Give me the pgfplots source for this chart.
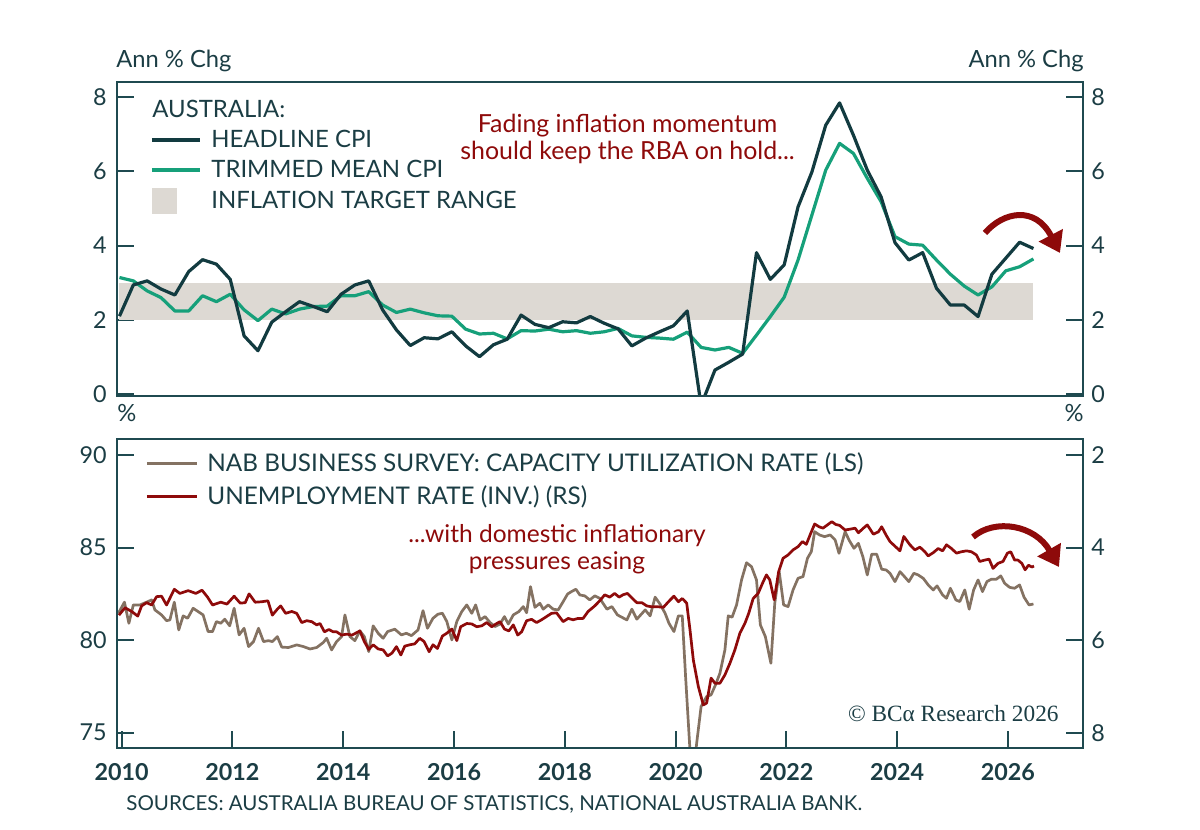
\documentclass[border=0pt]{standalone}
\usepackage{pgfplots}
\pgfplotsset{compat=1.18}
\usetikzlibrary{arrows.meta}
\usepackage{fontspec}
\setmainfont{Lato}
\newfontfamily\bcaserif{Liberation Serif}
\definecolor{framecol}{HTML}{1F4A50}
\definecolor{textcol}{HTML}{1B3D44}
\definecolor{headcol}{HTML}{123B40}
\definecolor{trimcol}{HTML}{16A07A}
\definecolor{bandcol}{HTML}{DDD9D3}
\definecolor{capcol}{HTML}{847262}
\definecolor{unempcol}{HTML}{8E0A0A}
\definecolor{annocol}{HTML}{8E0A0A}
\newcommand\fs[1]{\fontsize{#1}{#1}\selectfont}

\pgfplotstableread{
x y
2009.96 2.10
2010.21 2.94
2010.46 3.05
2010.71 2.83
2010.96 2.67
2011.21 3.30
2011.46 3.62
2011.71 3.50
2011.96 3.09
2012.21 1.57
2012.46 1.17
2012.71 1.94
2012.96 2.22
2013.21 2.49
2013.46 2.36
2013.71 2.22
2013.96 2.69
2014.21 2.94
2014.46 3.05
2014.71 2.27
2014.96 1.73
2015.21 1.31
2015.46 1.52
2015.71 1.49
2015.96 1.68
2016.21 1.30
2016.46 1.01
2016.71 1.33
2016.96 1.48
2017.21 2.13
2017.46 1.88
2017.71 1.79
2017.96 1.95
2018.21 1.92
2018.46 2.09
2018.71 1.91
2018.96 1.76
2019.21 1.30
2019.46 1.51
2019.71 1.68
2019.96 1.84
2020.21 2.24
2020.46 -0.30
2020.71 0.65
2020.96 0.86
2021.21 1.08
2021.46 3.81
2021.71 3.09
2021.96 3.48
2022.21 5.04
2022.46 5.98
2022.71 7.24
2022.96 7.84
2023.21 6.97
2023.46 6.03
2023.71 5.31
2023.96 4.08
2024.21 3.61
2024.46 3.81
2024.71 2.85
2024.96 2.40
2025.21 2.40
2025.46 2.09
2025.71 3.23
2025.96 3.66
2026.21 4.09
2026.46 3.92
}\headline

\pgfplotstableread{
x y
2009.96 3.14
2010.21 3.05
2010.46 2.78
2010.71 2.60
2010.96 2.24
2011.21 2.24
2011.46 2.65
2011.71 2.49
2011.96 2.69
2012.21 2.27
2012.46 1.98
2012.71 2.29
2012.96 2.16
2013.21 2.29
2013.46 2.36
2013.71 2.37
2013.96 2.65
2014.21 2.65
2014.46 2.76
2014.71 2.40
2014.96 2.20
2015.21 2.29
2015.46 2.19
2015.71 2.11
2015.96 2.10
2016.21 1.75
2016.46 1.62
2016.71 1.64
2016.96 1.49
2017.21 1.71
2017.46 1.70
2017.71 1.75
2017.96 1.68
2018.21 1.71
2018.46 1.64
2018.71 1.68
2018.96 1.77
2019.21 1.57
2019.46 1.53
2019.71 1.51
2019.96 1.48
2020.21 1.67
2020.46 1.26
2020.71 1.19
2020.96 1.26
2021.21 1.10
2021.46 1.59
2021.71 2.09
2021.96 2.61
2022.21 3.61
2022.46 4.82
2022.71 6.03
2022.96 6.75
2023.21 6.48
2023.46 5.81
2023.71 5.18
2023.96 4.24
2024.21 4.04
2024.46 4.01
2024.71 3.61
2024.96 3.23
2025.21 2.91
2025.46 2.67
2025.71 2.89
2025.96 3.32
2026.21 3.43
2026.46 3.64
}\trimmed

\pgfplotstableread{
x y
2009.94 81.45
2010.05 82.05
2010.13 80.91
2010.21 81.90
2010.33 81.90
2010.45 82.05
2010.54 82.17
2010.60 81.63
2010.72 81.36
2010.81 81.05
2010.87 81.09
2010.95 82.05
2011.03 80.55
2011.11 81.31
2011.19 81.18
2011.29 81.72
2011.38 81.54
2011.47 81.36
2011.56 80.46
2011.64 80.46
2011.71 81.00
2011.79 80.91
2011.86 81.13
2011.95 80.77
2012.03 81.72
2012.12 80.28
2012.21 80.64
2012.29 79.65
2012.38 79.92
2012.47 80.64
2012.56 79.92
2012.65 79.97
2012.72 79.92
2012.81 80.19
2012.89 79.62
2013.01 79.60
2013.16 79.74
2013.28 79.65
2013.40 79.52
2013.52 79.60
2013.64 79.87
2013.70 80.10
2013.79 79.47
2013.88 79.92
2013.97 80.19
2014.03 81.36
2014.12 80.19
2014.21 79.97
2014.30 80.50
2014.38 80.19
2014.46 79.38
2014.54 80.77
2014.63 80.37
2014.72 80.10
2014.80 80.46
2014.93 80.59
2015.05 80.28
2015.14 80.37
2015.23 80.24
2015.35 80.55
2015.44 81.59
2015.52 80.64
2015.62 81.18
2015.71 81.40
2015.79 81.45
2015.87 81.00
2015.96 80.01
2016.05 81.00
2016.14 81.54
2016.23 81.90
2016.32 81.45
2016.39 81.90
2016.47 81.09
2016.56 81.27
2016.65 80.95
2016.74 80.73
2016.83 80.87
2016.91 81.27
2016.98 80.87
2017.07 81.36
2017.17 81.54
2017.25 81.81
2017.31 81.48
2017.38 82.89
2017.46 81.77
2017.55 81.99
2017.61 81.67
2017.70 81.90
2017.79 81.67
2017.88 81.63
2017.97 82.08
2018.05 82.49
2018.12 82.62
2018.20 82.75
2018.27 82.44
2018.36 82.39
2018.45 82.17
2018.54 82.39
2018.63 82.26
2018.76 81.67
2018.85 81.81
2018.95 81.36
2019.12 81.09
2019.21 81.67
2019.30 81.13
2019.45 81.63
2019.54 81.31
2019.63 82.32
2019.72 81.94
2019.81 81.45
2019.88 80.91
2019.97 80.46
2020.05 81.31
2020.12 81.31
2020.18 78.03
2020.30 72.00
2020.38 74.43
2020.46 76.41
2020.56 76.95
2020.64 77.04
2020.72 77.58
2020.80 78.21
2020.89 79.47
2020.95 81.31
2021.02 81.24
2021.10 81.90
2021.19 83.25
2021.28 84.18
2021.37 83.97
2021.46 83.25
2021.53 80.82
2021.62 80.19
2021.72 78.75
2021.79 81.99
2021.87 83.70
2021.95 81.90
2022.03 81.81
2022.12 82.71
2022.21 83.34
2022.30 83.43
2022.38 84.42
2022.45 84.78
2022.51 85.86
2022.60 85.68
2022.69 85.59
2022.79 85.68
2022.88 85.41
2022.95 84.69
2023.06 85.86
2023.13 85.41
2023.22 84.96
2023.30 85.23
2023.38 84.51
2023.46 83.52
2023.54 84.64
2023.63 84.64
2023.72 83.83
2023.80 83.79
2023.87 83.61
2023.96 83.16
2024.05 83.70
2024.12 83.47
2024.21 83.16
2024.30 83.61
2024.38 83.52
2024.47 83.34
2024.56 82.98
2024.65 82.71
2024.72 82.93
2024.82 82.44
2024.89 82.26
2024.96 82.80
2025.06 82.17
2025.13 82.08
2025.22 82.71
2025.30 81.67
2025.38 82.71
2025.46 83.25
2025.54 82.62
2025.62 83.16
2025.70 83.29
2025.79 83.29
2025.87 83.47
2025.94 83.07
2026.03 82.85
2026.12 82.80
2026.21 82.98
2026.29 82.32
2026.38 81.90
2026.46 81.95
}\capacity

\pgfplotstableread{
x y
2009.95 5.46
2010.06 5.30
2010.18 5.38
2010.29 5.48
2010.36 5.26
2010.45 5.19
2010.54 5.24
2010.63 5.06
2010.72 5.05
2010.81 5.24
2010.95 4.90
2011.05 4.99
2011.20 4.93
2011.34 4.99
2011.45 4.92
2011.55 5.07
2011.64 5.24
2011.79 5.18
2011.90 5.22
2012.03 5.05
2012.14 5.20
2012.23 5.19
2012.30 5.00
2012.41 5.18
2012.53 5.17
2012.64 5.15
2012.72 5.46
2012.81 5.33
2012.87 5.26
2012.96 5.42
2013.07 5.38
2013.16 5.42
2013.25 5.62
2013.34 5.58
2013.43 5.60
2013.52 5.67
2013.58 5.64
2013.66 5.82
2013.74 5.77
2013.82 5.82
2013.88 5.82
2013.97 5.89
2014.06 5.87
2014.16 5.89
2014.30 5.80
2014.38 6.03
2014.46 6.20
2014.54 6.10
2014.63 6.19
2014.72 6.21
2014.80 6.34
2014.88 6.28
2014.96 6.14
2015.04 6.32
2015.11 6.13
2015.20 6.10
2015.29 6.08
2015.38 5.96
2015.46 6.03
2015.55 6.25
2015.62 6.10
2015.70 6.18
2015.79 5.91
2015.87 5.85
2015.96 5.76
2016.05 6.01
2016.12 5.71
2016.23 5.64
2016.32 5.65
2016.41 5.71
2016.50 5.69
2016.59 5.62
2016.68 5.71
2016.77 5.64
2016.83 5.60
2016.91 5.76
2016.99 5.80
2017.07 5.67
2017.15 5.89
2017.22 5.82
2017.31 5.58
2017.40 5.55
2017.49 5.62
2017.58 5.56
2017.67 5.49
2017.76 5.42
2017.85 5.41
2017.97 5.60
2018.06 5.53
2018.15 5.56
2018.24 5.53
2018.33 5.53
2018.42 5.38
2018.54 5.26
2018.63 5.15
2018.72 5.02
2018.81 5.07
2018.90 4.99
2018.98 5.07
2019.05 5.02
2019.13 4.99
2019.22 5.10
2019.30 5.19
2019.39 5.19
2019.48 5.26
2019.57 5.28
2019.69 5.28
2019.78 5.29
2019.87 5.17
2019.97 5.05
2020.05 5.17
2020.12 5.10
2020.20 5.20
2020.26 5.78
2020.32 6.43
2020.41 7.00
2020.50 7.40
2020.56 7.36
2020.64 6.82
2020.71 6.93
2020.80 6.93
2020.89 6.75
2020.98 6.50
2021.07 6.21
2021.16 5.85
2021.25 5.64
2021.32 5.42
2021.40 5.10
2021.49 4.99
2021.58 4.74
2021.64 4.59
2021.70 4.70
2021.78 5.13
2021.86 4.52
2021.94 4.23
2022.03 4.16
2022.12 4.05
2022.21 3.98
2022.29 3.87
2022.36 3.93
2022.44 3.69
2022.51 3.49
2022.59 3.55
2022.66 3.58
2022.74 3.51
2022.82 3.44
2022.89 3.50
2022.96 3.52
2023.06 3.62
2023.16 3.60
2023.24 3.58
2023.30 3.68
2023.39 3.58
2023.46 3.51
2023.57 3.71
2023.66 3.66
2023.72 3.55
2023.80 3.73
2023.87 3.87
2023.96 3.97
2024.05 4.07
2024.12 3.76
2024.23 3.94
2024.32 4.05
2024.41 3.99
2024.50 4.09
2024.56 4.18
2024.65 4.11
2024.74 4.02
2024.82 4.07
2024.89 3.94
2024.98 4.02
2025.07 4.12
2025.16 4.09
2025.25 4.07
2025.34 4.09
2025.43 4.16
2025.49 4.30
2025.58 4.27
2025.66 4.25
2025.73 4.45
2025.82 4.34
2025.91 4.30
2025.99 4.12
2026.05 4.09
2026.12 4.27
2026.18 4.27
2026.25 4.34
2026.31 4.48
2026.37 4.38
2026.43 4.42
2026.47 4.40
}\unemp

\pgfplotsset{
  base/.style={
    scale only axis, width=483.3bp, anchor=south west,
    xmin=2009.91, xmax=2027.36,
    axis line style={framecol, line width=1bp},
    tick style={framecol, line width=1bp},
    major tick length=8.5bp, tick align=inside,
    ticklabel style={font=\fs{11.7}, text=textcol},
    /pgf/number format/assume math mode=true,
    every axis plot/.append style={line join=round},
  },
  top/.style={base, at={(58.35bp,217.15bp)}, height=157bp, ymin=-0.04, ymax=8.41, ytick={0,2,4,6,8}, xtick=\empty},
  bot/.style={base, at={(58.35bp,41bp)}, height=154.35bp},
}

\begin{document}
\begin{tikzpicture}
\path[use as bounding box] (0,0) rectangle (600bp,415bp);

% ---------- top panel ----------
\begin{axis}[top, ytick pos=left, yticklabel style={xshift=-1.5bp}]
\addplot[draw=none, fill=bandcol] coordinates {(2009.96,2) (2026.46,2) (2026.46,3) (2009.96,3)} -- cycle;
\addplot[trimcol, line width=1.6bp] table[x=x,y=y] {\trimmed};
\addplot[headcol, line width=1.6bp] table[x=x,y=y] {\headline};
\end{axis}
\begin{axis}[top, ytick pos=right, yticklabel pos=right, yticklabel style={xshift=0.5bp}]
\end{axis}

% ---------- bottom panel ----------
\begin{axis}[bot, ymin=74.17, ymax=90.85, ytick={75,80,85,90}, ytick pos=left,
  yticklabel style={xshift=-1.5bp},
  xtick={2010,2012,2014,2016,2018,2020,2022,2024,2026},
  xticklabels={\bfseries 2010,\bfseries 2012,\bfseries 2014,\bfseries 2016,\bfseries 2018,\bfseries 2020,\bfseries 2022,\bfseries 2024,\bfseries 2026},
  xtick pos=bottom, xticklabel style={yshift=-4bp}]
\addplot[capcol, line width=1.35bp] table[x=x,y=y] {\capacity};
\end{axis}
\begin{axis}[bot, ymin=1.66, ymax=8.33, y dir=reverse, ytick={2,4,6,8},
  ytick pos=right, yticklabel pos=right, yticklabel style={xshift=0.5bp}, xtick=\empty]
\addplot[unempcol, line width=1.35bp] table[x=x,y=y] {\unemp};
\end{axis}

% ---------- annotations in pixel coordinates ----------
\begin{scope}[yshift=415bp, x=0.5bp, y=-0.5bp]
\node[anchor=base west, inner sep=0, text=textcol, font=\fs{11.9}] at (116,68) {Ann \% Chg};
\node[anchor=base east, inner sep=0, text=textcol, font=\fs{11.9}] at (1084,68) {Ann \% Chg};
\node[anchor=base west, inner sep=0, text=textcol, font=\fs{11.9}] at (117,422) {\%};
\node[anchor=base east, inner sep=0, text=textcol, font=\fs{11.9}] at (1084,422) {\%};

% top legend
\node[anchor=base west, inner sep=0, text=textcol, font=\fs{12}] at (152,118) {AUSTRALIA:};
\draw[headcol, line width=1.6bp] (152,140) -- (200,140);
\node[anchor=base west, inner sep=0, text=textcol, font=\fs{12}] at (211,148) {HEADLINE CPI};
\draw[trimcol, line width=1.6bp] (152,170) -- (200,170);
\node[anchor=base west, inner sep=0, text=textcol, font=\fs{12}] at (211,178) {TRIMMED MEAN CPI};
\fill[bandcol] (152,188) rectangle (177,214);
\node[anchor=base west, inner sep=0, text=textcol, font=\fs{12}] at (211,209) {INFLATION TARGET RANGE};

% bottom legend
\draw[capcol, line width=1.5bp] (147,464) -- (197,464);
\node[anchor=base west, inner sep=0, text=textcol, font=\fs{12.2}] at (207,472) {NAB BUSINESS SURVEY: CAPACITY UTILIZATION RATE (LS)};
\draw[unempcol, line width=1.5bp] (147,497) -- (197,497);
\node[anchor=base west, inner sep=0, text=textcol, font=\fs{12.2}] at (207,505) {UNEMPLOYMENT RATE (INV.) (RS)};

% text annotations
\node[anchor=base, inner sep=0, text=annocol, font=\fs{12.5}] at (627.6,133) {Fading inflation momentum};
\node[anchor=base, inner sep=0, text=annocol, font=\fs{12.5}] at (627.6,160) {should keep the RBA on hold...};
\node[anchor=base, inner sep=0, text=annocol, font=\fs{12.3}] at (557,543) {...with domestic inflationary};
\node[anchor=base, inner sep=0, text=annocol, font=\fs{12.3}] at (557,570) {pressures easing};

% arrows
\draw[annocol, line width=3bp, -{Triangle[length=10bp,width=13bp]}] (985,233) .. controls (1003,212) and (1035,205) .. (1060,253);
\draw[annocol, line width=3bp, -{Triangle[length=10bp,width=13bp]}] (973,537) .. controls (995,518) and (1035,525) .. (1059,567);

% credits
\node[anchor=base east, inner sep=0, text=textcol, font=\bcaserif\fs{11.7}] at (1059,722) {© BCα Research 2026};
\node[anchor=base west, inner sep=0, text=textcol, font=\fs{10.3}] at (126,811) {SOURCES: AUSTRALIA BUREAU OF STATISTICS, NATIONAL AUSTRALIA BANK.};
\end{scope}
\end{tikzpicture}
\end{document}
